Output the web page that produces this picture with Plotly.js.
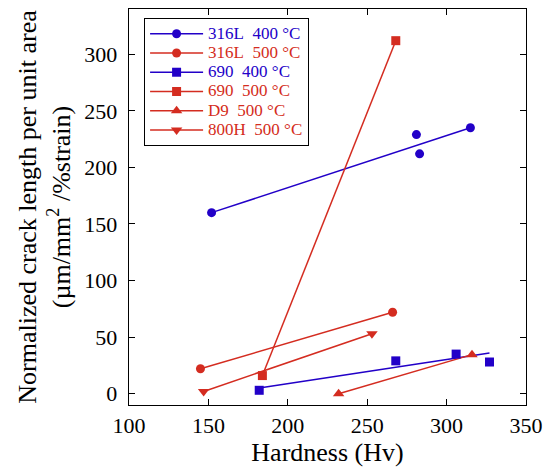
<!DOCTYPE html>
<html>
<head>
<meta charset="utf-8">
<script src="https://cdn.plot.ly/plotly-3.0.1.min.js"></script>
<style>html,body{margin:0;padding:0;background:#fff;}#chart{width:554px;height:470px;}</style>
</head>
<body>
<div id="chart"></div>
<script>
// ---- data ----
var blue = '#2200c8';
var red = '#d42c20';

var s316L400_x = [152, 281, 283, 315];
var s316L400_y = [160, 229, 212, 235];
var s316L400_fitx = [152, 315];
var s316L400_fity = [160, 235];

var s316L500_x = [145, 266];
var s316L500_y = [22, 72];

var s690_400_x = [182, 268, 306, 327];
var s690_400_y = [3, 29, 35, 28];
var s690_400_fitx = [182, 327];
var s690_400_fity = [5, 36];

var s690_500_x = [184, 268];
var s690_500_y = [16, 312];

var sD9_x = [232, 316];
var sD9_y = [0, 34.5];

var s800H_x = [147, 253];
var s800H_y = [2, 53];

var names = ['316L\u00a0\u00a0400 \u00b0C', '316L\u00a0\u00a0500 \u00b0C', '690\u00a0\u00a0400 \u00b0C',
             '690\u00a0\u00a0500 \u00b0C', 'D9\u00a0\u00a0500 \u00b0C', '800H\u00a0\u00a0500 \u00b0C'];
var xTicks = [100, 150, 200, 250, 300, 350];
var yTicks = [0, 50, 100, 150, 200, 250, 300];

var font = 'Liberation Serif';

var series = [
  {x: s316L400_x, y: s316L400_y, lx: s316L400_fitx, ly: s316L400_fity, c: blue, sym: 'circle', size: 9},
  {x: s316L500_x, y: s316L500_y, lx: s316L500_x, ly: s316L500_y, c: red, sym: 'circle', size: 9},
  {x: s690_400_x, y: s690_400_y, lx: s690_400_fitx, ly: s690_400_fity, c: blue, sym: 'square', size: 9},
  {x: s690_500_x, y: s690_500_y, lx: s690_500_x, ly: s690_500_y, c: red, sym: 'square', size: 9},
  {x: sD9_x, y: sD9_y, lx: sD9_x, ly: sD9_y, c: red, sym: 'triangle-up', size: 10},
  {x: s800H_x, y: s800H_y, lx: s800H_x, ly: s800H_y, c: red, sym: 'triangle-down', size: 10}
];

var traces = [];
series.forEach(function (s, i) {
  traces.push({x: s.lx, y: s.ly, type: 'scatter', mode: 'lines', showlegend: false,
    line: {color: s.c, width: 1.5}, hoverinfo: 'skip'});
});
series.forEach(function (s, i) {
  traces.push({x: s.x, y: s.y, type: 'scatter', mode: 'markers', showlegend: false,
    marker: {color: s.c, symbol: s.sym, size: s.size}});
});
series.forEach(function (s, i) {
  traces.push({x: [null], y: [null], type: 'scatter', mode: 'lines+markers', showlegend: true,
    name: '<span style="font-size:17px;color:' + s.c + '">' + names[i] + '</span>',
    line: {color: s.c, width: 1.5}, marker: {color: s.c, symbol: s.sym, size: s.size}});
});

var axisCommon = {
  showline: true, linecolor: '#000', linewidth: 1.3, mirror: 'ticks',
  ticks: 'inside', ticklen: 6, tickwidth: 1, tickcolor: '#000',
  showgrid: false, zeroline: false,
  tickfont: {family: font, size: 22, color: '#000'}
};

var layout = {
  width: 554, height: 470,
  margin: {l: 129, r: 28, t: 9, b: 65},
  paper_bgcolor: '#fff', plot_bgcolor: '#fff',
  font: {family: font, color: '#000'},
  showlegend: true,
  legend: {
    x: 0.038, y: 0.977, xanchor: 'left', yanchor: 'top',
    bgcolor: '#fff', bordercolor: '#000', borderwidth: 1,
    font: {family: font, size: 12.5, color: '#000'},
    itemwidth: 53, traceorder: 'normal'
  },
  xaxis: Object.assign({}, axisCommon, {
    range: [100, 350], tickvals: xTicks, ticktext: xTicks.map(String),
    title: {text: 'Hardness (Hv)', font: {family: font, size: 26, color: '#000'}, standoff: 3}
  }),
  yaxis: Object.assign({}, axisCommon, {
    range: [-10, 340], tickvals: yTicks, ticktext: yTicks.map(String),
    ticklabelstandoff: 6,
    title: {text: 'Normalized crack length per unit area<br>(\u00b5m/mm<sup>2</sup> /%strain)',
      font: {family: font, size: 26, color: '#000'}, standoff: 6}
  })
};

Plotly.newPlot('chart', traces, layout, {displayModeBar: false, staticPlot: true});
</script>
</body>
</html>
